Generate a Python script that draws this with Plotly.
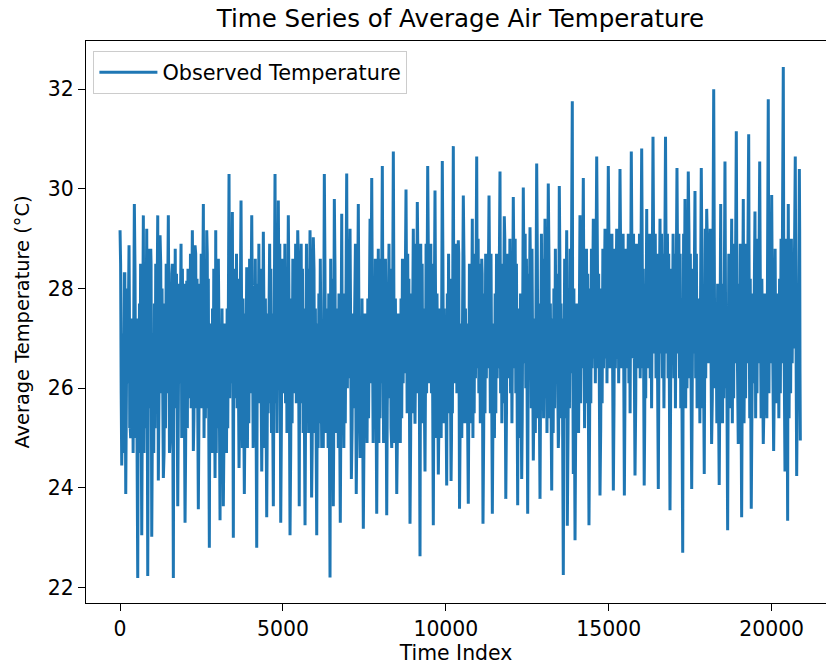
import plotly.graph_objects as go

# Spike tops: (time index, temperature)
top_index = [0, 132, 276, 439, 715, 819, 942, 1157, 1228, 1482, 1587, 1872, 2047, 2219, 2302, 2557, 2661,
             2937, 3017, 3345, 3447, 3713, 3888, 4042, 4398, 4573, 4757, 4858, 5165, 5454, 5831, 5932, 6270,
             6577, 6804, 6957, 7059, 7212, 7313, 7673, 7725, 7927, 8050, 8234, 8388, 8777, 9001, 9124, 9443,
             9667, 9891, 10229, 10382, 10536, 10812, 10947, 11101, 11325, 11662, 11794, 12070, 12377, 12583,
             12788, 13043, 13144, 13482, 13709, 13881, 14117, 14219, 14526, 14630, 14885, 14986, 15244, 15345,
             15600, 15692, 16011, 16165, 16358, 16573, 16742, 17094, 17340, 17441, 17647, 17840, 18006, 18221,
             18436, 18567, 18773, 18915, 19129, 19295, 19488, 19633, 19896, 20001, 20357, 20510, 20725, 20850]
top_temp = [29.17, 28.3, 28.87, 29.7, 29.47, 29.2, 28.8, 29.47, 29.07, 29.47, 28.3, 28.9, 28.16, 29.17, 28.87,
            29.7, 29.17, 29.17, 28.6, 30.3, 29.54, 29.77, 28.43, 29.47, 29.14, 28.63, 30.3, 29.77, 29.47, 29.17,
            29.17, 29.03, 30.3, 29.8, 29.5, 30.31, 29.2, 28.8, 29.7, 29.4, 30.22, 28.8, 30.46, 28.85, 30.75,
            29.99, 29.2, 29.74, 30.46, 29.97, 30.56, 30.86, 28.97, 29.87, 29.4, 30.65, 28.6, 29.87, 30.35, 29.45,
            29.84, 30.03, 29.23, 30.51, 29.4, 30.11, 30.06, 29.17, 31.76, 29.47, 30.22, 29.4, 30.65, 29.2, 30.46,
            29.2, 30.4, 29.1, 30.75, 30.81, 29.6, 31.05, 29.4, 31.05, 30.42, 29.8, 30.35, 29.96, 30.42, 29.6,
            32.0, 29.7, 30.55, 29.4, 31.16, 29.8, 31.1, 29.55, 30.55, 31.8, 29.88, 32.45, 29.7, 30.65, 30.4]

# Spike bottoms: (time index, temperature)
bottom_index = [52, 175, 307, 543, 666, 850, 973, 1175, 1329, 1535, 1636, 1771, 1894, 1995, 2250, 2403, 2741,
                2916, 3069, 3170, 3477, 3652, 3815, 4195, 4349, 4502, 4705, 4932, 5217, 5500, 5678, 5880, 6037,
                6190, 6445, 6546, 6760, 7100, 7250, 7366, 7467, 7878, 8185, 8339, 8493, 8900, 9053, 9207, 9360,
                9615, 9769, 10026, 10160, 10420, 10689, 11140, 11427, 11840, 12205, 12328, 12512, 12684, 12890,
                13249, 13452, 13605, 13728, 13912, 13965, 14393, 14731, 15141, 15479, 15806, 16088, 16521, 16880,
                17270, 17546, 17931, 18157, 18390, 18649, 18975, 19079, 19374, 19743, 20061, 20409, 20491, 20768,
                20880]
bottom_temp = [24.45, 23.88, 25.3, 22.19, 23.05, 22.23, 23.02, 24.15, 24.2, 25.0, 22.19, 23.63, 25.0, 23.3,
               24.74, 23.57, 22.8, 24.2, 23.35, 23.63, 23.0, 24.4, 23.88, 22.8, 24.33, 23.41, 23.63, 23.3, 23.05,
               23.63, 23.25, 23.81, 23.05, 24.8, 22.2, 23.63, 23.3, 24.18, 23.88, 24.6, 23.18, 23.48, 23.45, 24.8,
               23.88, 23.28, 25.29, 22.63, 24.33, 23.25, 24.27, 24.05, 24.14, 23.58, 23.68, 23.28, 23.48, 23.78,
               23.65, 24.18, 23.48, 24.55, 23.78, 23.95, 24.8, 22.25, 23.24, 24.28, 22.95, 23.25, 23.85, 23.95,
               23.85, 24.25, 24.05, 23.98, 23.55, 22.7, 23.98, 24.28, 24.88, 24.06, 23.15, 24.88, 23.41, 23.58,
               24.88, 24.74, 24.33, 23.34, 24.24, 24.95]

# Day-to-day swings inside the dense core, read per block of the record
block_start_index = [0, 1750, 3500, 5250, 7000, 8750, 10500, 12250, 14000, 15750, 17500, 19250]
core_highs = [
    [28.5, 27.4, 28.0, 27.1, 28.8, 27.7, 28.3],
    [28.4, 27.3, 28.1, 27.2, 28.7, 27.6, 28.2],
    [28.6, 27.5, 28.1, 27.2, 28.9, 27.8, 28.4],
    [28.6, 27.6, 28.2, 27.3, 28.9, 27.9, 28.4],
    [28.6, 27.5, 28.1, 27.2, 28.9, 27.8, 28.4],
    [28.7, 27.6, 28.2, 27.3, 28.9, 27.9, 28.5],
    [28.7, 27.6, 28.3, 27.3, 29.0, 27.9, 28.5],
    [28.8, 27.7, 28.3, 27.4, 29.1, 28.0, 28.6],
    [28.8, 27.7, 28.3, 27.4, 29.1, 28.0, 28.6],
    [28.9, 27.8, 28.4, 27.5, 29.1, 28.1, 28.7],
    [28.9, 27.8, 28.4, 27.5, 29.2, 28.1, 28.7],
    [29.0, 27.9, 28.5, 27.6, 29.2, 28.2, 28.8],
]
core_lows = [
    [25.0, 25.9, 25.4, 26.1, 24.7, 25.6, 25.2],
    [25.0, 25.8, 25.4, 26.1, 24.7, 25.6, 25.2],
    [25.1, 25.9, 25.5, 26.2, 24.8, 25.7, 25.3],
    [25.1, 26.0, 25.5, 26.2, 24.8, 25.7, 25.3],
    [25.2, 26.1, 25.6, 26.3, 24.9, 25.8, 25.4],
    [25.3, 26.1, 25.7, 26.3, 25.0, 25.9, 25.5],
    [25.3, 26.2, 25.7, 26.4, 25.0, 25.9, 25.5],
    [25.4, 26.3, 25.8, 26.5, 25.1, 26.0, 25.6],
    [25.5, 26.4, 25.9, 26.6, 25.2, 26.1, 25.7],
    [25.6, 26.4, 26.0, 26.7, 25.3, 26.2, 25.8],
    [25.6, 26.5, 26.0, 26.7, 25.3, 26.2, 25.8],
    [25.7, 26.5, 26.1, 26.8, 25.4, 26.3, 25.9],
]


def block_of(i):
    k = 0
    for j, s in enumerate(block_start_index):
        if i >= s:
            k = j
    return k


extremes = sorted([(i, v, "T") for i, v in zip(top_index, top_temp)] +
                  [(i, v, "B") for i, v in zip(bottom_index, bottom_temp)], key=lambda e: e[0])

xs, ys = [], []
c = 0
for n, (i, v, kind) in enumerate(extremes):
    xs.append(i)
    ys.append(v)
    if n + 1 < len(extremes):
        i2, v2, kind2 = extremes[n + 1]
        k = block_of(i)
        m = max(2, int(round((i2 - i) / 26)))
        if m % 2:
            m += 1
        for j in range(m):
            up = (j % 2 == 1) if kind2 == "T" else (j % 2 == 0)
            lvl = core_highs[k] if up else core_lows[k]
            xs.append(i + (i2 - i) * (j + 1) / (m + 1))
            ys.append(lvl[c % len(lvl)])
            c += 1

FONT = "DejaVu Sans, Verdana, sans-serif"

fig = go.Figure()
fig.add_trace(go.Scatter(x=xs, y=ys, mode="lines", name="Observed Temperature",
                         line=dict(color="#1f77b4", width=3)))

fig.update_layout(
    width=826, height=670,
    margin=dict(l=86, r=0, t=41, b=67),
    paper_bgcolor="white", plot_bgcolor="white",
    font=dict(family=FONT, size=20.4, color="black"),
    title=dict(text="Time Series of Average Air Temperature", x=0.5575, xanchor="center",
               y=0.973, yanchor="middle", font=dict(size=24.5)),
    showlegend=True,
    legend=dict(x=0.01, y=0.982, xanchor="left", yanchor="top", bgcolor="rgba(255,255,255,0.85)",
                bordercolor="#cccccc", borderwidth=1, font=dict(size=20.8), itemwidth=58,
                tracegroupgap=0),
)
fig.update_xaxes(range=[-1045, 21668], showgrid=False, zeroline=False, showline=True, linecolor="black",
                 linewidth=1.3, mirror=True, ticks="outside", ticklen=7, tickwidth=1.3, tickcolor="black",
                 automargin=False,
                 tickvals=[0, 5000, 10000, 15000, 20000], ticktext=["0", "5000", "10000", "15000", "20000"],
                 title=dict(text="Time Index", standoff=6, font=dict(size=20.4)))
fig.update_yaxes(range=[21.69, 32.97], showgrid=False, zeroline=False, showline=True, linecolor="black",
                 linewidth=1.3, mirror=False, ticks="outside", ticklen=7, tickwidth=1.3, tickcolor="black",
                 automargin=False,
                 tickvals=[22, 24, 26, 28, 30, 32],
                 title=dict(text="Average Temperature (°C)", standoff=13, font=dict(size=19.4)))

fig.write_html("out.html", config={"displayModeBar": False},
               post_script="document.body.style.margin='0px';")
